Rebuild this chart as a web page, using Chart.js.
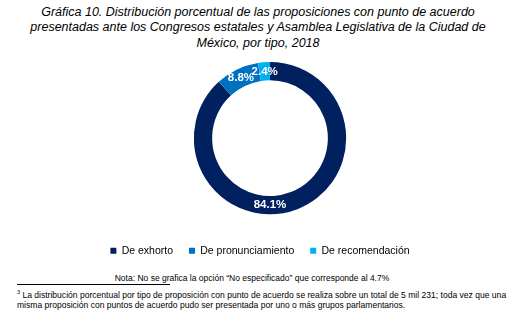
<!DOCTYPE html>
<html lang="es">
<head>
<meta charset="UTF-8">
<title>Gráfica 10</title>
<script src="https://cdn.jsdelivr.net/npm/chart.js"></script>
<style>
  body {
    margin: 0;
    width: 528px;
    height: 324px;
    background: #fff;
    font-family: "Liberation Sans", Arial, sans-serif;
    position: relative;
    overflow: hidden;
  }
  .titulo {
    position: absolute;
    left: 0; top: 5px; width: 516px;
    text-align: center;
    font-style: italic;
    font-size: 12.5px;
    line-height: 15.3px;
    color: #000;
  }
  .grafica {
    position: absolute;
    left: 0; top: 56px;
    width: 528px; height: 210px;
  }
  .nota {
    position: absolute;
    left: 0; top: 273px; width: 504px;
    text-align: center;
    font-size: 8.5px;
    color: #000;
  }
  .linea {
    position: absolute;
    left: 17px; top: 284px;
    width: 153px; height: 1px;
    background: #000;
  }
  .pie {
    position: absolute;
    left: 17px; top: 287px; width: 505px;
    font-size: 8.55px;
    line-height: 10.5px;
    color: #000;
  }
  .pie sup { font-size: 5.5px; }
</style>
</head>
<body>

<div class="titulo">
  Gráfica 10. Distribución porcentual de las proposiciones con punto de acuerdo<br>
  presentadas ante los Congresos estatales y Asamblea Legislativa de la Ciudad de<br>
  México, por tipo, 2018
</div>

<div class="grafica"><canvas id="dona"></canvas></div>

<div class="nota">Nota: No se grafica la opción “No especificado” que corresponde al 4.7%</div>
<div class="linea"></div>
<div class="pie"><sup>3</sup> La distribución porcentual por tipo de proposición con punto de acuerdo se realiza sobre un total de 5 mil 231; toda vez que una misma proposición con puntos de acuerdo pudo ser presentada por uno o más grupos parlamentarios.</div>

<script>
// datos de la gráfica
const tipos = ['De exhorto', 'De pronunciamiento', 'De recomendación'];
const porcentajes = [84.1, 8.8, 2.4];
const colores = ['#002060', '#0070C0', '#00B0F0'];

// etiquetas blancas sobre el anillo
const etiquetas = {
  id: 'etiquetas',
  afterDatasetsDraw(chart) {
    const ctx = chart.ctx;
    const arcos = chart.getDatasetMeta(0).data;
    ctx.save();
    ctx.fillStyle = '#fff';
    ctx.font = 'bold 11.5px "Liberation Sans", Arial, sans-serif';
    ctx.textAlign = 'center';
    ctx.textBaseline = 'middle';
    arcos.forEach((arco, i) => {
      const p = arco.getProps(['x', 'y', 'startAngle', 'endAngle', 'innerRadius', 'outerRadius']);
      let ang = (p.startAngle + p.endAngle) / 2;
      if (i === 0) ang = Math.PI / 2; // la etiqueta grande va abajo
      const r = (p.innerRadius + p.outerRadius) / 2;
      ctx.fillText(porcentajes[i].toFixed(1) + '%', p.x + Math.cos(ang) * r, p.y + Math.sin(ang) * r);
    });
    ctx.restore();
  }
};

// la leyenda queda un poco a la izquierda del anillo
const moverLeyenda = {
  id: 'moverLeyenda',
  afterLayout(chart) {
    chart.legend.left -= 10;
    chart.legend.right -= 10;
  }
};

new Chart(document.getElementById('dona'), {
  type: 'doughnut',
  data: {
    labels: tipos,
    datasets: [{
      data: porcentajes,
      backgroundColor: colores,
      borderWidth: 0
    }]
  },
  options: {
    responsive: true,
    maintainAspectRatio: false,
    animation: false,
    cutout: '76%',
    layout: { padding: { top: 6, bottom: 0, left: 12 } },
    plugins: {
      legend: {
        position: 'bottom',
        title: { display: true, text: ' ', font: { size: 1 }, padding: { top: 0, bottom: 14 } },
        labels: {
          boxWidth: 6,
          boxHeight: 6,
          padding: 16,
          color: '#000',
          font: { family: '"Liberation Sans", Arial, sans-serif', size: 10.5 }
        }
      },
      tooltip: { enabled: false }
    }
  },
  plugins: [etiquetas, moverLeyenda]
});
</script>
</body>
</html>
